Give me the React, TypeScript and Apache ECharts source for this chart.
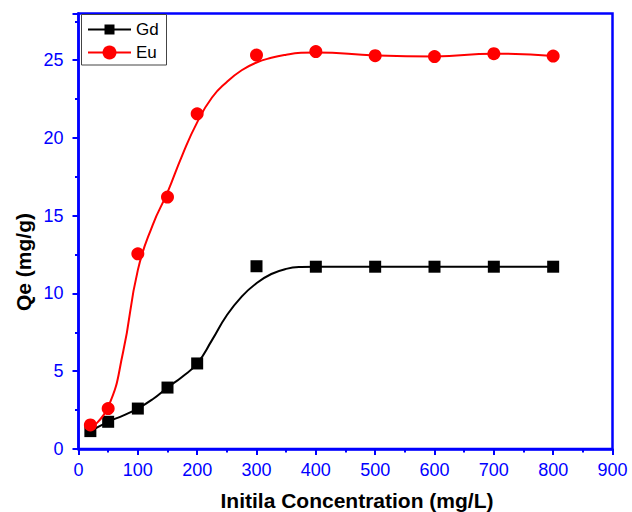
import React, { useEffect, useRef } from "react";
import * as echarts from "echarts";

// Measured data points
const concentrations = [20, 50, 100, 150, 200, 300, 400, 500, 600, 700, 800];
const gdQe = [1.15, 1.75, 2.6, 3.95, 5.5, 11.75, 11.72, 11.72, 11.72, 11.72, 11.72];
const euQe = [1.55, 2.6, 12.55, 16.2, 21.55, 25.33, 25.55, 25.29, 25.23, 25.42, 25.26];

// Fitted curves
const gdFitX = [20, 50, 75, 100, 125, 150, 175, 200, 225, 250, 275, 300, 325, 350, 375, 400, 500, 600, 700, 800];
const gdFitY = [1.15, 1.75, 2.15, 2.6, 3.2, 3.95, 4.65, 5.5, 7.0, 8.6, 9.8, 10.66, 11.25, 11.58, 11.7, 11.72, 11.72, 11.72, 11.72, 11.72];
const euFitX = [20, 50, 75, 100, 125, 150, 175, 200, 225, 250, 275, 300, 325, 350, 375, 400, 500, 600, 700, 800];
const euFitY = [1.3, 2.7, 6.2, 11.5, 14.4, 16.5, 18.9, 21.0, 22.6, 23.6, 24.35, 24.85, 25.15, 25.35, 25.47, 25.5, 25.3, 25.23, 25.42, 25.27];

const seriesNames = ["Gd", "Eu"];
const xTitle = "Initila Concentration (mg/L)";
const yTitle = "Qe (mg/g)";

const FONT = 'Arial, "Liberation Sans", sans-serif';
const BLUE = "#0000FF";

export default function App() {
  const ref = useRef<HTMLDivElement>(null);
  useEffect(() => {
    document.body.style.margin = "0";
    if (!ref.current) return;
    const chart = echarts.init(ref.current, undefined, { renderer: "svg" });
    const pairs = (xs: number[], ys: number[]) => xs.map((x, i) => [x, ys[i]]);
    chart.setOption({
      animation: false,
      backgroundColor: "#ffffff",
      grid: {
        left: 78.5,
        right: 19.5,
        top: 13.5,
        bottom: 63,
        show: true,
        borderColor: BLUE,
        borderWidth: 2.5,
      },
      xAxis: {
        type: "value",
        min: 0,
        max: 900,
        interval: 100,
        axisLine: { show: true, lineStyle: { color: BLUE, width: 2.5 } },
        axisTick: { show: true, inside: false, length: 6, lineStyle: { color: BLUE, width: 2 } },
        minorTick: { show: true, splitNumber: 2, length: 3.5, lineStyle: { color: BLUE, width: 2 } },
        axisLabel: { color: BLUE, fontSize: 18, fontFamily: FONT, margin: 12 },
        splitLine: { show: false },
      },
      yAxis: {
        type: "value",
        min: 0,
        max: 28,
        interval: 5,
        axisLine: { show: true, lineStyle: { color: BLUE, width: 2.5 } },
        axisTick: { show: true, inside: false, length: 6, lineStyle: { color: BLUE, width: 2 } },
        minorTick: { show: true, splitNumber: 2, length: 3.5, lineStyle: { color: BLUE, width: 2 } },
        axisLabel: { color: BLUE, fontSize: 18, fontFamily: FONT, margin: 15, showMaxLabel: false },
        splitLine: { show: false },
      },
      series: [
        {
          name: seriesNames[0] + " fit",
          type: "line",
          data: pairs(gdFitX, gdFitY),
          smooth: 0.5,
          showSymbol: false,
          symbol: "none",
          lineStyle: { color: "#000000", width: 2 },
          z: 2,
        },
        {
          name: seriesNames[0],
          type: "scatter",
          data: pairs(concentrations, gdQe),
          symbol: "rect",
          symbolSize: 12,
          itemStyle: { color: "#000000", opacity: 1 },
          z: 3,
        },
        {
          name: seriesNames[1] + " fit",
          type: "line",
          data: pairs(euFitX, euFitY),
          smooth: 0.5,
          showSymbol: false,
          symbol: "none",
          lineStyle: { color: "#FF0000", width: 2 },
          z: 4,
        },
        {
          name: seriesNames[1],
          type: "scatter",
          data: pairs(concentrations, euQe),
          symbol: "circle",
          symbolSize: 13,
          itemStyle: { color: "#FF0000", opacity: 1 },
          z: 5,
        },
      ],
      graphic: [
        {
          type: "rect",
          shape: { x: 81.5, y: 14.5, width: 85, height: 50.5 },
          style: { fill: "#ffffff", stroke: "#444444", lineWidth: 1 },
          z: 10,
        },
        {
          type: "line",
          shape: { x1: 88, y1: 29.5, x2: 131, y2: 29.5 },
          style: { stroke: "#000000", lineWidth: 2 },
          z: 11,
        },
        {
          type: "rect",
          shape: { x: 104.5, y: 24.5, width: 10, height: 10 },
          style: { fill: "#000000" },
          z: 12,
        },
        {
          type: "text",
          x: 136,
          y: 29.5,
          style: { text: seriesNames[0], fontSize: 17, fontFamily: FONT, fill: "#000000", textVerticalAlign: "middle" },
          z: 12,
        },
        {
          type: "line",
          shape: { x1: 88, y1: 52.5, x2: 131, y2: 52.5 },
          style: { stroke: "#FF0000", lineWidth: 2 },
          z: 11,
        },
        {
          type: "circle",
          shape: { cx: 109.5, cy: 52.5, r: 7 },
          style: { fill: "#FF0000" },
          z: 12,
        },
        {
          type: "text",
          x: 136,
          y: 52.5,
          style: { text: seriesNames[1], fontSize: 17, fontFamily: FONT, fill: "#000000", textVerticalAlign: "middle" },
          z: 12,
        },
        {
          type: "text",
          x: 357,
          y: 500,
          style: {
            text: xTitle,
            fontSize: 21,
            fontWeight: "bold",
            fontFamily: FONT,
            fill: "#000000",
            textAlign: "center",
            textVerticalAlign: "middle",
          },
        },
        {
          type: "text",
          x: 23,
          y: 262,
          rotation: Math.PI / 2,
          style: {
            text: yTitle,
            fontSize: 21,
            fontWeight: "bold",
            fontFamily: FONT,
            fill: "#000000",
            textAlign: "center",
            textVerticalAlign: "middle",
          },
        },
      ],
    });
    return () => chart.dispose();
  }, []);
  return <div ref={ref} style={{ width: 632, height: 512 }} />;
}
